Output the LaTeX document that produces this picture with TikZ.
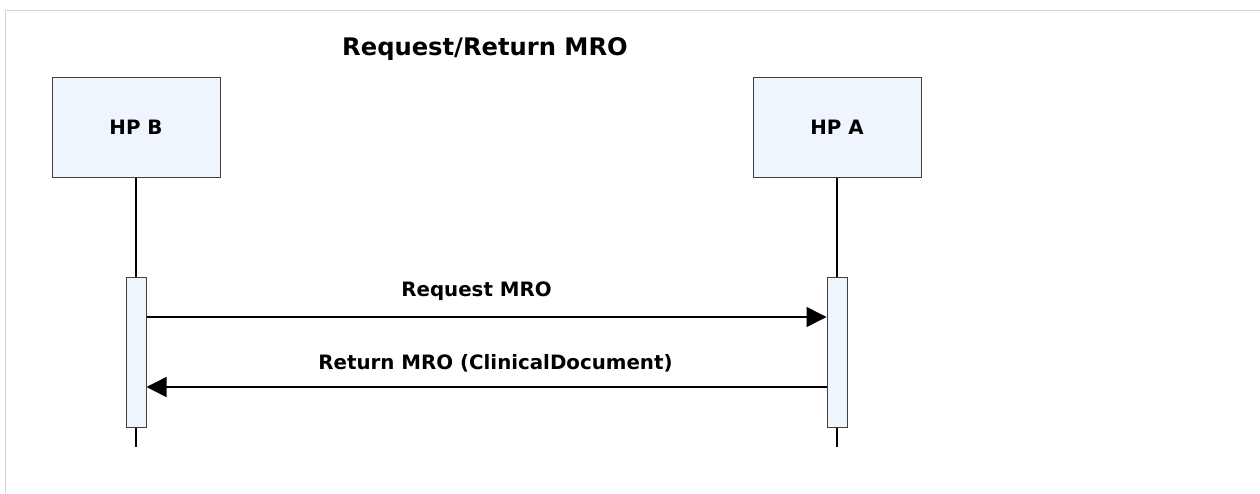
\documentclass[tikz,border=0pt]{standalone}
\usepackage{fontspec}
\setmainfont{DejaVu Sans}
\usepackage{tikz}
\usetikzlibrary{arrows.meta, positioning}
\definecolor{boxfill}{HTML}{EEF5FD}
\definecolor{boxline}{HTML}{404040}
\definecolor{frameline}{HTML}{D4D4D4}

\begin{document}
\begin{tikzpicture}[
    x=1pt, y=-1pt,
    party/.style={rectangle, draw=boxline, fill=boxfill, line width=1pt, minimum width=168pt, minimum height=100pt, font=\bfseries\fontsize{19.8}{22}\selectfont, inner sep=0pt},
    activation/.style={rectangle, draw=boxline, fill=boxfill, line width=1pt, minimum width=20pt, minimum height=150pt, inner sep=0pt},
    lifeline/.style={line width=1.4pt},
    msg/.style={-{Triangle[length=20pt, width=20pt]}, line width=1.5pt},
    msglabel/.style={font=\bfseries\fontsize{19.8}{22}\selectfont, inner sep=0pt, text depth=0pt}
]
\useasboundingbox (0,0) rectangle (1260,493);
\draw[frameline, line width=1.2pt] (1260,10.5) -- (5.5,10.5) -- (5.5,493);
\node[font=\bfseries\fontsize{24.2}{28}\selectfont] (title) at (485,49) {Request/Return MRO};
\node[party] (hpb) at (136,127) {HP B};
\node[party] (hpa) at (837,127) {HP A};
\node[activation] (actb) at (136,352) {};
\node[activation] (acta) at (837,352) {};
\coordinate (endb) at (136,447);
\coordinate (enda) at (837,447);
% lifelines
\draw[lifeline] (hpb.south) -- (actb.north);
\draw[lifeline] (actb.south) -- (endb);
\draw[lifeline] (hpa.south) -- (acta.north);
\draw[lifeline] (acta.south) -- (enda);
% messages
\draw[msg] (actb.east |- 0,317) -- (acta.west |- 0,317) node[msglabel, midway, above=20pt, xshift=-10pt] {Request MRO};
\draw[msg] (acta.west |- 0,387) -- (actb.east |- 0,387) node[msglabel, midway, above=17pt, xshift=9pt] {Return MRO (ClinicalDocument)};
\end{tikzpicture}
\end{document}
